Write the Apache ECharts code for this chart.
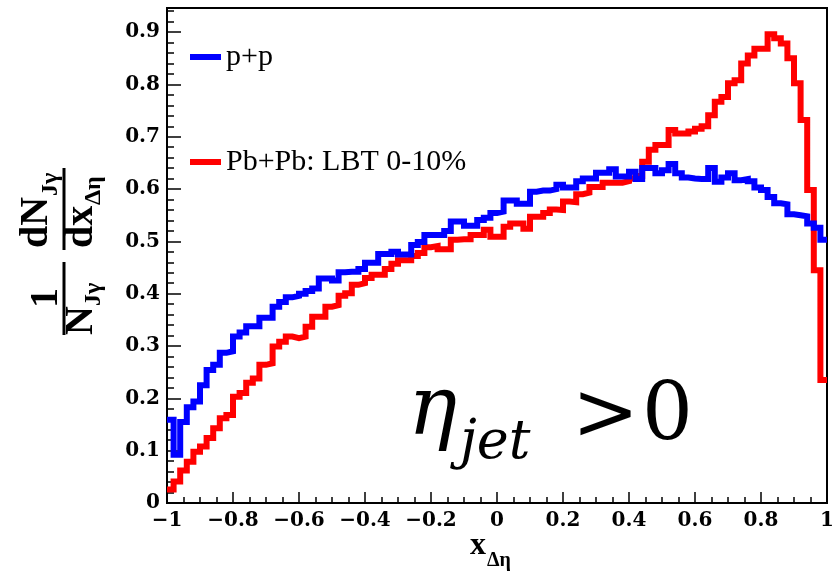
<!DOCTYPE html>
<html>
<head>
<meta charset="utf-8">
<title>x_Δη distribution</title>
<script src="https://cdn.jsdelivr.net/npm/echarts@6/dist/echarts.min.js"></script>
<style>
  html, body { margin: 0; padding: 0; background: #fff; }
  #chart { width: 834px; height: 575px; }
</style>
</head>
<body>
<div id="chart"></div>
<script>
// Histogram binning: 100 bins of width 0.02 on [-1, 1]
const nBins = 100;
const binLow = [];
for (let i = 0; i < nBins; i++) binLow.push(Math.round((-1 + 0.02 * i) * 100) / 100);

// p+p  (1/N dN/dx per bin)
const ppValues = [
  0.159, 0.092, 0.155, 0.183, 0.194, 0.225, 0.254, 0.264, 0.287, 0.290,
  0.318, 0.326, 0.338, 0.338, 0.354, 0.354, 0.375, 0.384, 0.393, 0.396,
  0.400, 0.405, 0.410, 0.429, 0.429, 0.425, 0.441, 0.442, 0.442, 0.447,
  0.459, 0.459, 0.476, 0.476, 0.480, 0.475, 0.475, 0.493, 0.499, 0.512,
  0.512, 0.512, 0.520, 0.538, 0.538, 0.530, 0.530, 0.541, 0.545, 0.554,
  0.557, 0.578, 0.578, 0.572, 0.572, 0.595, 0.597, 0.597, 0.600, 0.608,
  0.603, 0.603, 0.615, 0.620, 0.620, 0.631, 0.631, 0.638, 0.624, 0.624,
  0.633, 0.619, 0.640, 0.640, 0.630, 0.636, 0.648, 0.630, 0.622, 0.620,
  0.619, 0.619, 0.640, 0.614, 0.622, 0.630, 0.617, 0.619, 0.615, 0.603,
  0.598, 0.585, 0.573, 0.571, 0.552, 0.550, 0.548, 0.534, 0.526, 0.503
];

// Pb+Pb: LBT 0-10%
const pbpbValues = [
  0.026, 0.041, 0.062, 0.079, 0.098, 0.108, 0.124, 0.143, 0.162, 0.168,
  0.203, 0.210, 0.230, 0.238, 0.264, 0.267, 0.299, 0.308, 0.318, 0.315,
  0.318, 0.337, 0.356, 0.356, 0.375, 0.378, 0.396, 0.401, 0.417, 0.420,
  0.430, 0.436, 0.436, 0.447, 0.457, 0.464, 0.464, 0.472, 0.478, 0.489,
  0.491, 0.485, 0.485, 0.503, 0.504, 0.504, 0.512, 0.512, 0.522, 0.509,
  0.509, 0.528, 0.534, 0.534, 0.524, 0.547, 0.547, 0.554, 0.561, 0.560,
  0.576, 0.575, 0.590, 0.593, 0.604, 0.604, 0.612, 0.612, 0.612, 0.615,
  0.620, 0.625, 0.652, 0.675, 0.684, 0.684, 0.713, 0.706, 0.706, 0.710,
  0.715, 0.720, 0.741, 0.767, 0.776, 0.802, 0.808, 0.840, 0.855, 0.868,
  0.868, 0.896, 0.888, 0.878, 0.850, 0.802, 0.732, 0.598, 0.445, 0.235
];

const seriesNames = ['p+p', 'Pb+Pb: LBT 0-10%'];

// Axis ranges and tick spacing
const xMin = -1, xMax = 1, xStep = 0.2;
const yMin = 0, yMax = 0.946, yStep = 0.1, yMinorStep = 0.02;

// Turn bin contents into step-line points (left edges + closing right edge)
function toSteps(values) {
  const pts = values.map((v, i) => [binLow[i], v]);
  pts.push([xMax, values[values.length - 1]]);
  return pts;
}

const labelFont = 'DejaVu Serif';
const titleFont = '"Liberation Serif", "Times New Roman", serif';

function xLabel(v) {
  if (Math.abs(v) < 1e-9) return '0';
  const s = String(Math.round(v * 10) / 10);
  return s.replace('-', '\u2212');
}
function yLabel(v) {
  if (Math.abs(v) < 1e-9) return '0';
  return v.toFixed(1);
}

// Text placed by its baseline (middle anchor shifted by ~0.34 em)
function txt(text, x, baseline, size, opts) {
  opts = opts || {};
  const weight = opts.weight || 'bold';
  const style = opts.fontStyle || 'normal';
  const family = opts.family || titleFont;
  return {
    type: 'text',
    x: x,
    y: baseline - 0.34 * size,
    style: {
      text: text,
      font: style + ' ' + weight + ' ' + size + 'px ' + family,
      fill: '#000',
      align: opts.align || 'left',
      verticalAlign: 'middle'
    },
    z: 100
  };
}
function bar(x1, x2) {
  return { type: 'line', shape: { x1: x1, y1: 0, x2: x2, y2: 0 },
           style: { stroke: '#000', lineWidth: 3 }, z: 100 };
}

const chart = echarts.init(document.getElementById('chart'), null, { renderer: 'canvas' });

const option = {
  animation: false,
  backgroundColor: '#fff',
  grid: {
    left: 167, right: 7, top: 8, bottom: 72,
    show: true, borderColor: '#000', borderWidth: 2,
    containLabel: false, outerBoundsMode: 'none'
  },
  legend: {
    data: seriesNames,
    orient: 'vertical',
    left: 185, top: 37,
    itemGap: 75,
    itemWidth: 31, itemHeight: 6,
    icon: 'rect',
    selectedMode: false,
    textStyle: { fontFamily: titleFont, fontSize: 30, color: '#000' }
  },
  xAxis: {
    type: 'value',
    min: xMin, max: xMax, interval: xStep,
    axisLine: { show: true, onZero: false, lineStyle: { color: '#000', width: 2 } },
    axisTick: { show: true, inside: true, length: 11, lineStyle: { color: '#000', width: 1.5 } },
    minorTick: { show: true, splitNumber: 4, length: 6, lineStyle: { color: '#000', width: 1.5 } },
    splitLine: { show: false },
    minorSplitLine: { show: false },
    axisLabel: {
      formatter: xLabel, margin: 8,
      fontFamily: labelFont, fontWeight: 'bold', fontSize: 20, color: '#000'
    }
  },
  yAxis: [
    {
      type: 'value',
      min: yMin, max: yMax, interval: yStep,
      axisLine: { show: true, onZero: false, lineStyle: { color: '#000', width: 2 } },
      axisTick: { show: true, inside: true, length: 14, lineStyle: { color: '#000', width: 1.5 } },
      splitLine: { show: false },
      axisLabel: {
        formatter: yLabel, margin: 7, showMaxLabel: false,
        fontFamily: labelFont, fontWeight: 'bold', fontSize: 20, color: '#000'
      }
    },
    {
      // fine ticks every 0.02 on the same left edge
      type: 'value',
      position: 'left', offset: 0,
      min: yMin, max: yMax, interval: yMinorStep,
      alignTicks: false,
      axisLine: { show: false, onZero: false },
      axisTick: { show: true, inside: true, length: 7, lineStyle: { color: '#000', width: 1.5 } },
      splitLine: { show: false },
      axisLabel: { show: false }
    }
  ],
  series: [
    {
      name: seriesNames[1],
      type: 'line',
      step: 'end',
      data: toSteps(pbpbValues),
      showSymbol: false,
      symbol: 'none',
      color: '#ff0000',
      lineStyle: { color: '#ff0000', width: 6, join: 'miter', cap: 'butt' },
      z: 2
    },
    {
      name: seriesNames[0],
      type: 'line',
      step: 'end',
      data: toSteps(ppValues),
      showSymbol: false,
      symbol: 'none',
      color: '#0000ff',
      lineStyle: { color: '#0000ff', width: 6, join: 'miter', cap: 'butt' },
      z: 3
    }
  ],
  graphic: [
    // y-axis title: (1/N_Jγ) dN_Jγ/dx_Δη, reading bottom to top
    {
      type: 'group',
      x: 64, y: 240,
      rotation: Math.PI / 2,
      children: [
        bar(-95, -22),
        txt('1', -58, -4, 40, { align: 'center' }),
        txt('N', -95, 31, 40),
        txt('J\u03b3', -66, 38, 24),
        bar(-10, 72),
        txt('dN', -8, -14, 40),
        txt('J\u03b3', 44, -5, 24),
        txt('dx', -8, 31, 40),
        txt('\u0394\u03b7', 35, 38, 24)
      ]
    },
    // x-axis title: x_Δη
    txt('x', 470, 557, 32),
    txt('\u0394\u03b7', 487, 568, 20),
    // region label: η_jet > 0
    txt('\u03b7', 408, 441, 82, { weight: 'normal', fontStyle: 'italic', family: '"DejaVu Serif", serif' }),
    txt('jet', 460, 462, 54, { weight: 'normal', fontStyle: 'italic', family: '"DejaVu Serif", serif' }),
    txt('>', 572, 445, 80, { weight: 'normal', family: '"DejaVu Serif", serif' }),
    txt('0', 642, 445, 80, { weight: 'normal', family: '"DejaVu Serif", serif' })
  ]
};

chart.setOption(option);
</script>
</body>
</html>
